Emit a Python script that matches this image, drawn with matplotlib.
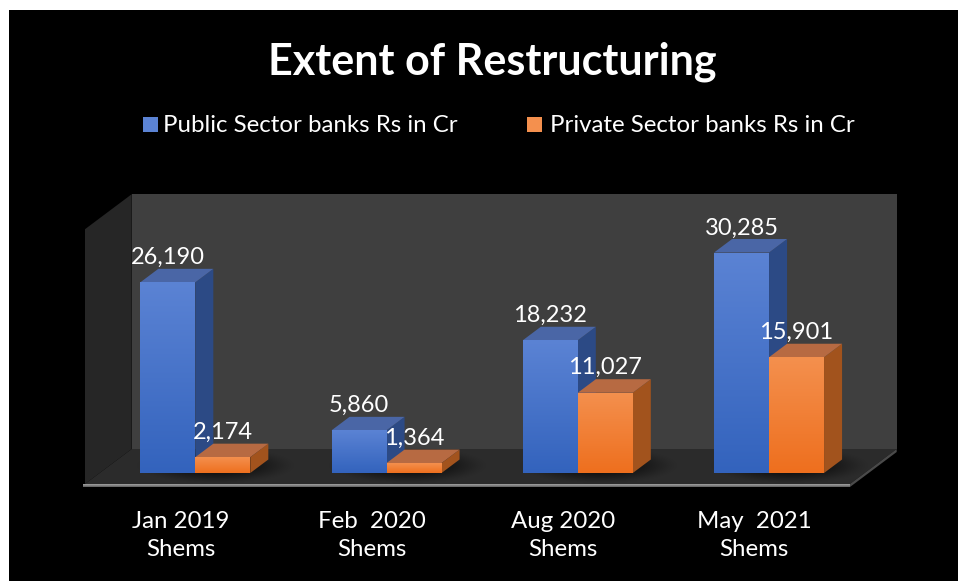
import numpy as np
import matplotlib
matplotlib.use("Agg")
import matplotlib.pyplot as plt
from matplotlib.patches import Polygon, Rectangle
from matplotlib.colors import LinearSegmentedColormap

plt.rcParams['font.family'] = ['Lato', 'DejaVu Sans']

# ---- data ----
categories = ["Jan 2019\nShems", "Feb  2020\nShems", "Aug 2020\nShems", "May  2021\nShems"]
public_vals = [26190, 5860, 18232, 30285]
private_vals = [2174, 1364, 11027, 15901]
series_names = ["Public Sector banks Rs in Cr", "Private Sector banks Rs in Cr"]
value_labels_public = ["26,190", "5,860", "18,232", "30,285"]
value_labels_private = ["2,174", "1,364", "11,027", "15,901"]
y_max = 35000

# ---- figure / axes in a pseudo-3D projection ----
W, H = 960, 581
fig = plt.figure(figsize=(W / 100, H / 100), dpi=100, facecolor="white")
fig.patches.append(Rectangle((9 / W, 0), (958 - 9) / W, (H - 10) / H,
                             transform=fig.transFigure, facecolor="black",
                             edgecolor="none", zorder=-5))

ax = fig.add_axes([0, 0, 1, 1])
ax.set_facecolor("none")
ax.axis("off")

PX_CAT = 191.25          # pixels per category
PX_VAL = 0.00728         # pixels per value unit
X0_PX, Y0_PX = 85, 484   # front-left floor corner
XLIM = (-0.5 - X0_PX / PX_CAT, -0.5 + (W - X0_PX) / PX_CAT)
YLIM = (-(H - Y0_PX) / PX_VAL, Y0_PX / PX_VAL)

# depth offsets for full depth of the plot box
DX = 46.7 / PX_CAT
DY = 35.0 / PX_VAL
n = len(categories)


def proj(x, v, d):
    return (x + d * DX, v + d * DY)


def poly(pts, color, z, **kw):
    p = Polygon(pts, closed=True, facecolor=color, edgecolor="none", zorder=z, **kw)
    ax.add_patch(p)
    return p


def gradient_fill(patch, top_color, bottom_color, x0, x1, y0, y1, z):
    cmap = LinearSegmentedColormap.from_list("g", [bottom_color, top_color])
    grad = np.linspace(0, 1, 256).reshape(-1, 1)
    im = ax.imshow(grad, cmap=cmap, aspect="auto", origin="lower",
                   extent=(x0, x1, y0, y1), zorder=z, interpolation="bicubic")
    im.set_clip_path(patch)


# walls and floor
xl, xr = -0.5, n - 0.5
poly([proj(xl, 0, 1), proj(xr, 0, 1), proj(xr, y_max, 1), proj(xl, y_max, 1)], "#3f3f3f", 1)
poly([proj(xl, 0, 0), proj(xl, 0, 1), proj(xl, y_max, 1), proj(xl, y_max, 0)], "#262626", 1)
poly([proj(xl, 0, 0), proj(xr, 0, 0), proj(xr, 0, 1), proj(xl, 0, 1)], "#2b2b2b", 1.1)
# floor slab edges
slab = 3.0 / PX_VAL
edge = poly([proj(xl - 0.01, 0, 0), proj(xr, 0, 0), proj(xr, -slab, 0), proj(xl - 0.01, -slab, 0)],
            "#8a8a8a", 1.2)
gradient_fill(edge, "#a8a8a8", "#5a5a5a", xl - 0.01, xr, -slab, 0, 1.21)
poly([proj(xr, 0, 0), proj(xr, 0, 1), proj(xr, -slab, 1), proj(xr, -slab, 0)], "#4a4a4a", 1.2)

# soft shadows around bar bases
D0, D1 = 0.314, 0.70
BW = 55.0 / PX_CAT
for i in range(n):
    gx = np.linspace(-1, 1, 120)
    gy = np.linspace(-1, 1, 60)
    GX, GY = np.meshgrid(gx, gy)
    a = np.clip(1 - (GX ** 2 + GY ** 2), 0, 1) ** 1.5 * 0.75
    rgba = np.zeros((60, 120, 4))
    rgba[..., 3] = a
    cx, cv = proj(i + 0.06, 0, (D0 + D1) / 2)
    ax.imshow(rgba, extent=(cx - 0.42, cx + 0.42, cv - 0.52 * DY, cv + 0.52 * DY),
              aspect="auto", zorder=1.3, interpolation="bicubic")

# 3D bars
styles = [
    dict(top="#5b83d4", bottom="#3363bd", side="#2c4a85", cap="#4a66a6"),
    dict(top="#f4904e", bottom="#ee6f1e", side="#a2531d", cap="#b76a42"),
]


def bar3d(x0, value, st, z):
    dd = D1 - D0
    bx, bv = proj(x0, 0, D0)
    bx1 = bx + BW
    # side face
    poly([(bx1, bv), (bx1, bv + value), (bx1 + dd * DX, bv + value + dd * DY),
          (bx1 + dd * DX, bv + dd * DY)], st["side"], z)
    # top face
    poly([(bx, bv + value), (bx1, bv + value), (bx1 + dd * DX, bv + value + dd * DY),
          (bx + dd * DX, bv + value + dd * DY)], st["cap"], z)
    # front face
    rect = ax.bar(bx, value, width=BW, bottom=bv, align="edge", color=st["bottom"],
                  edgecolor="none", zorder=z + 0.01)[0]
    gradient_fill(rect, st["top"], st["bottom"], bx, bx1, bv, bv + value, z + 0.02)
    return bx + BW / 2, bv + value + dd * DY


for i in range(n):
    z = 2 + i
    cx_p, top_p = bar3d(i - BW, public_vals[i], styles[0], z)
    cx_q, top_q = bar3d(i, private_vals[i], styles[1], z + 0.5)
    ax.text(cx_p, top_p + 4.5 / PX_VAL, value_labels_public[i], color="white",
            fontsize=17, ha="center", va="baseline", zorder=10)
    ax.text(cx_q, top_q + 5.0 / PX_VAL, value_labels_private[i], color="white",
            fontsize=17, ha="center", va="baseline", zorder=10)

ax.set_xlim(*XLIM)
ax.set_ylim(*YLIM)

# category labels
for i, lab in enumerate(categories):
    ax.text(i, (Y0_PX - 535.5) / PX_VAL, lab, color="white", fontsize=17.3,
            ha="center", va="center", linespacing=1.42, zorder=10)

# title
fig.text(492.5 / W, 1 - 75 / H, "Extent of Restructuring", color="white",
         fontsize=31, fontweight="bold", ha="center", va="baseline")

# legend
leg_items = [(143, 163, series_names[0], styles[0]), (527, 550, series_names[1], styles[1])]
for sq_x, tx, name, st in leg_items:
    fig.patches.append(Rectangle((sq_x / W, 1 - 132 / H), 15 / W, 15 / H,
                                 transform=fig.transFigure,
                                 facecolor=st["top"], edgecolor="none", zorder=5))
    fig.text(tx / W, 1 - 132.3 / H, name, color="white", fontsize=17.3,
             ha="left", va="baseline")

fig.savefig("out.png", dpi=100, facecolor=fig.get_facecolor())
